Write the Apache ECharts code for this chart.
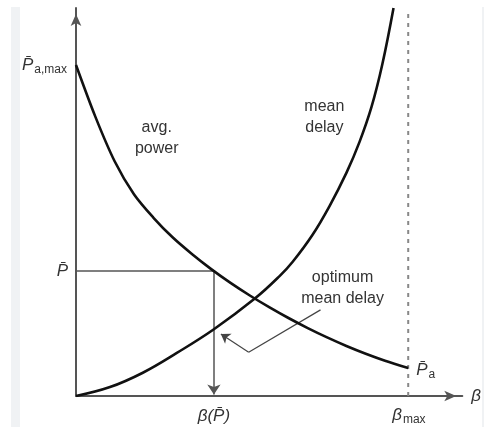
<!DOCTYPE html>
<html>
<head>
<meta charset="utf-8">
<script src="https://cdn.jsdelivr.net/npm/echarts@6/dist/echarts.min.js"></script>
<style>
  html, body { margin: 0; padding: 0; background: #ffffff; }
  #chart { width: 484px; height: 430px; }
</style>
</head>
<body>
<div id="chart"></div>
<script>
// Average transmit power as a function of the scheduling parameter beta
const powerBeta  = [0, 5, 10, 15, 20, 25, 30, 35, 40, 45, 50, 55, 60, 65, 70, 75, 80, 86];
const powerValue = [85.3, 72.0, 60.5, 52.0, 46.0, 40.9, 36.6, 32.7, 29.15, 25.9, 22.9, 20.1, 17.5, 15.1, 12.9, 10.9, 9.1, 7.2];

// Mean delay as a function of beta
const delayBeta  = [0, 8.8, 17.3, 26.1, 35.7, 46.3, 52.7, 56.1, 61.2, 65.6, 70.0, 73.4, 76.5, 79.3, 82.2];
const delayValue = [0, 2.3, 6.0, 11.1, 17.2, 25.1, 30.9, 34.6, 41.5, 48.9, 57.5, 65.5, 74.5, 85.5, 100];

// Operating point: target power and the beta that achieves it
const pBar = 32.2;
const betaAtPBar = 35.7;
const betaMax = 86;
const pMax = 85.3;

// Pointer from the "optimum mean delay" note to the delay curve
const pointerPath = [[63.3, 22.2], [44.7, 11.3], [37.5, 16.0]];

const zip = (xs, ys) => xs.map((x, i) => [x, ys[i]]);

const FONT = '"Liberation Sans", Arial, Helvetica, sans-serif';
const TXT = '#333333';

const chart = echarts.init(document.getElementById('chart'), null, { renderer: 'canvas' });

const option = {
  backgroundColor: '#ffffff',
  animation: false,
  grid: { left: 76, right: 21, top: 8, bottom: 34 },
  xAxis: {
    type: 'value', min: 0, max: 100,
    axisLine: {
      onZero: false,
      lineStyle: { color: '#555555', width: 2 },
      symbol: ['none', 'arrow'], symbolSize: [8, 12], symbolOffset: [0, -6]
    },
    axisTick: { show: false }, axisLabel: { show: false }, splitLine: { show: false },
    name: 'β', nameLocation: 'end', nameGap: 9,
    nameTextStyle: { fontFamily: FONT, fontStyle: 'italic', fontSize: 17, color: TXT, verticalAlign: 'middle', padding: [4, 0, 0, 0] }
  },
  yAxis: {
    type: 'value', min: 0, max: 100,
    axisLine: {
      onZero: false,
      lineStyle: { color: '#555555', width: 2 },
      symbol: ['none', 'arrow'], symbolSize: [8, 12], symbolOffset: [0, -6]
    },
    axisTick: { show: false }, axisLabel: { show: false }, splitLine: { show: false }
  },
  series: [
    {
      name: 'avg. power', type: 'line', data: zip(powerBeta, powerValue),
      smooth: 0.3, showSymbol: false, symbol: 'none',
      lineStyle: { color: '#111111', width: 2.6 }, z: 5
    },
    {
      name: 'mean delay', type: 'line', data: zip(delayBeta, delayValue),
      smooth: 0.4, showSymbol: false, symbol: 'none',
      lineStyle: { color: '#111111', width: 2.6 }, z: 5
    },
    {
      name: 'P level', type: 'line', data: [[0, pBar], [betaAtPBar, pBar]],
      showSymbol: false, symbol: 'none',
      lineStyle: { color: '#555555', width: 1.5 }, z: 3
    },
    {
      name: 'beta max', type: 'line', data: [[betaMax, 0], [betaMax, 99.7]],
      showSymbol: false, symbol: 'none',
      lineStyle: { color: '#888888', width: 2, type: [4, 5] }, z: 2
    },
    {
      name: 'drop arrow', type: 'lines', coordinateSystem: 'cartesian2d',
      symbol: ['none', 'arrow'], symbolSize: 10,
      lineStyle: { color: '#555555', width: 1.5, opacity: 1 },
      data: [{ coords: [[betaAtPBar, pBar], [betaAtPBar, 0.4]] }], z: 3
    },
    {
      name: 'pointer', type: 'lines', coordinateSystem: 'cartesian2d',
      symbol: 'none',
      lineStyle: { color: '#444444', width: 1.2, opacity: 1 },
      data: [{ coords: [pointerPath[0], pointerPath[1]] }], z: 3
    },
    {
      name: 'pointer head', type: 'lines', coordinateSystem: 'cartesian2d',
      symbol: ['none', 'arrow'], symbolSize: 9,
      lineStyle: { color: '#444444', width: 1.2, opacity: 1 },
      data: [{ coords: [pointerPath[1], pointerPath[2]] }], z: 3
    }
  ]
};
chart.setOption(option);

// Text annotations placed from data coordinates
const px = (x, y) => chart.convertToPixel({ gridIndex: 0 }, [x, y]);

const pRich = {
  p: { fontFamily: FONT, fontStyle: 'italic', fontSize: 17, color: TXT, lineHeight: 22, verticalAlign: 'middle' },
  s: { fontFamily: FONT, fontSize: 12, color: TXT, lineHeight: 22, verticalAlign: 'bottom', padding: [0, 0, 0, 1] }
};

function label(pos, text, extra) {
  return {
    type: 'text', x: pos[0], y: pos[1], silent: true, z: 10,
    style: Object.assign({ text: text, fontFamily: FONT, fontSize: 16, fill: TXT, align: 'center', verticalAlign: 'middle', lineHeight: 21 }, extra || {})
  };
}

const pMaxPx = px(0, pMax);
const pBarPx = px(0, pBar);
const bPPx = px(betaAtPBar, 0);
const bMaxPx = px(betaMax, 0);
const paEnd = px(powerBeta[powerBeta.length - 1], powerValue[powerValue.length - 1]);

chart.setOption({
  graphic: [
    { type: 'rect', shape: { x: 11, y: 7, width: 9, height: 420 }, style: { fill: '#f0f2f4' }, silent: true, z: 0 },
    { type: 'rect', shape: { x: 482, y: 7, width: 2, height: 420 }, style: { fill: '#f0f2f4' }, silent: true, z: 0 },

    label([pMaxPx[0] - 9, pMaxPx[1]], '{p|P\u0304}{s|a,max}', { align: 'right', rich: pRich }),
    label([pBarPx[0] - 8, pBarPx[1]], '{p|P\u0304}', { align: 'right', rich: pRich }),
    label([bPPx[0], bPPx[1] + 20], 'β(P\u0304)', { fontStyle: 'italic', fontSize: 17 }),
    label([bMaxPx[0] - 16, bMaxPx[1] + 19], '{p|β}{s|max}', { align: 'left', rich: pRich }),
    label([paEnd[0] + 8, paEnd[1] + 2], '{p|P\u0304}{s|a}', { align: 'left', rich: pRich }),

    label(px(20.9, 66.5), 'avg.\npower'),
    label(px(64.3, 71.9), 'mean\ndelay'),
    label(px(69.0, 27.8), 'optimum\nmean delay')
  ]
});
</script>
</body>
</html>
